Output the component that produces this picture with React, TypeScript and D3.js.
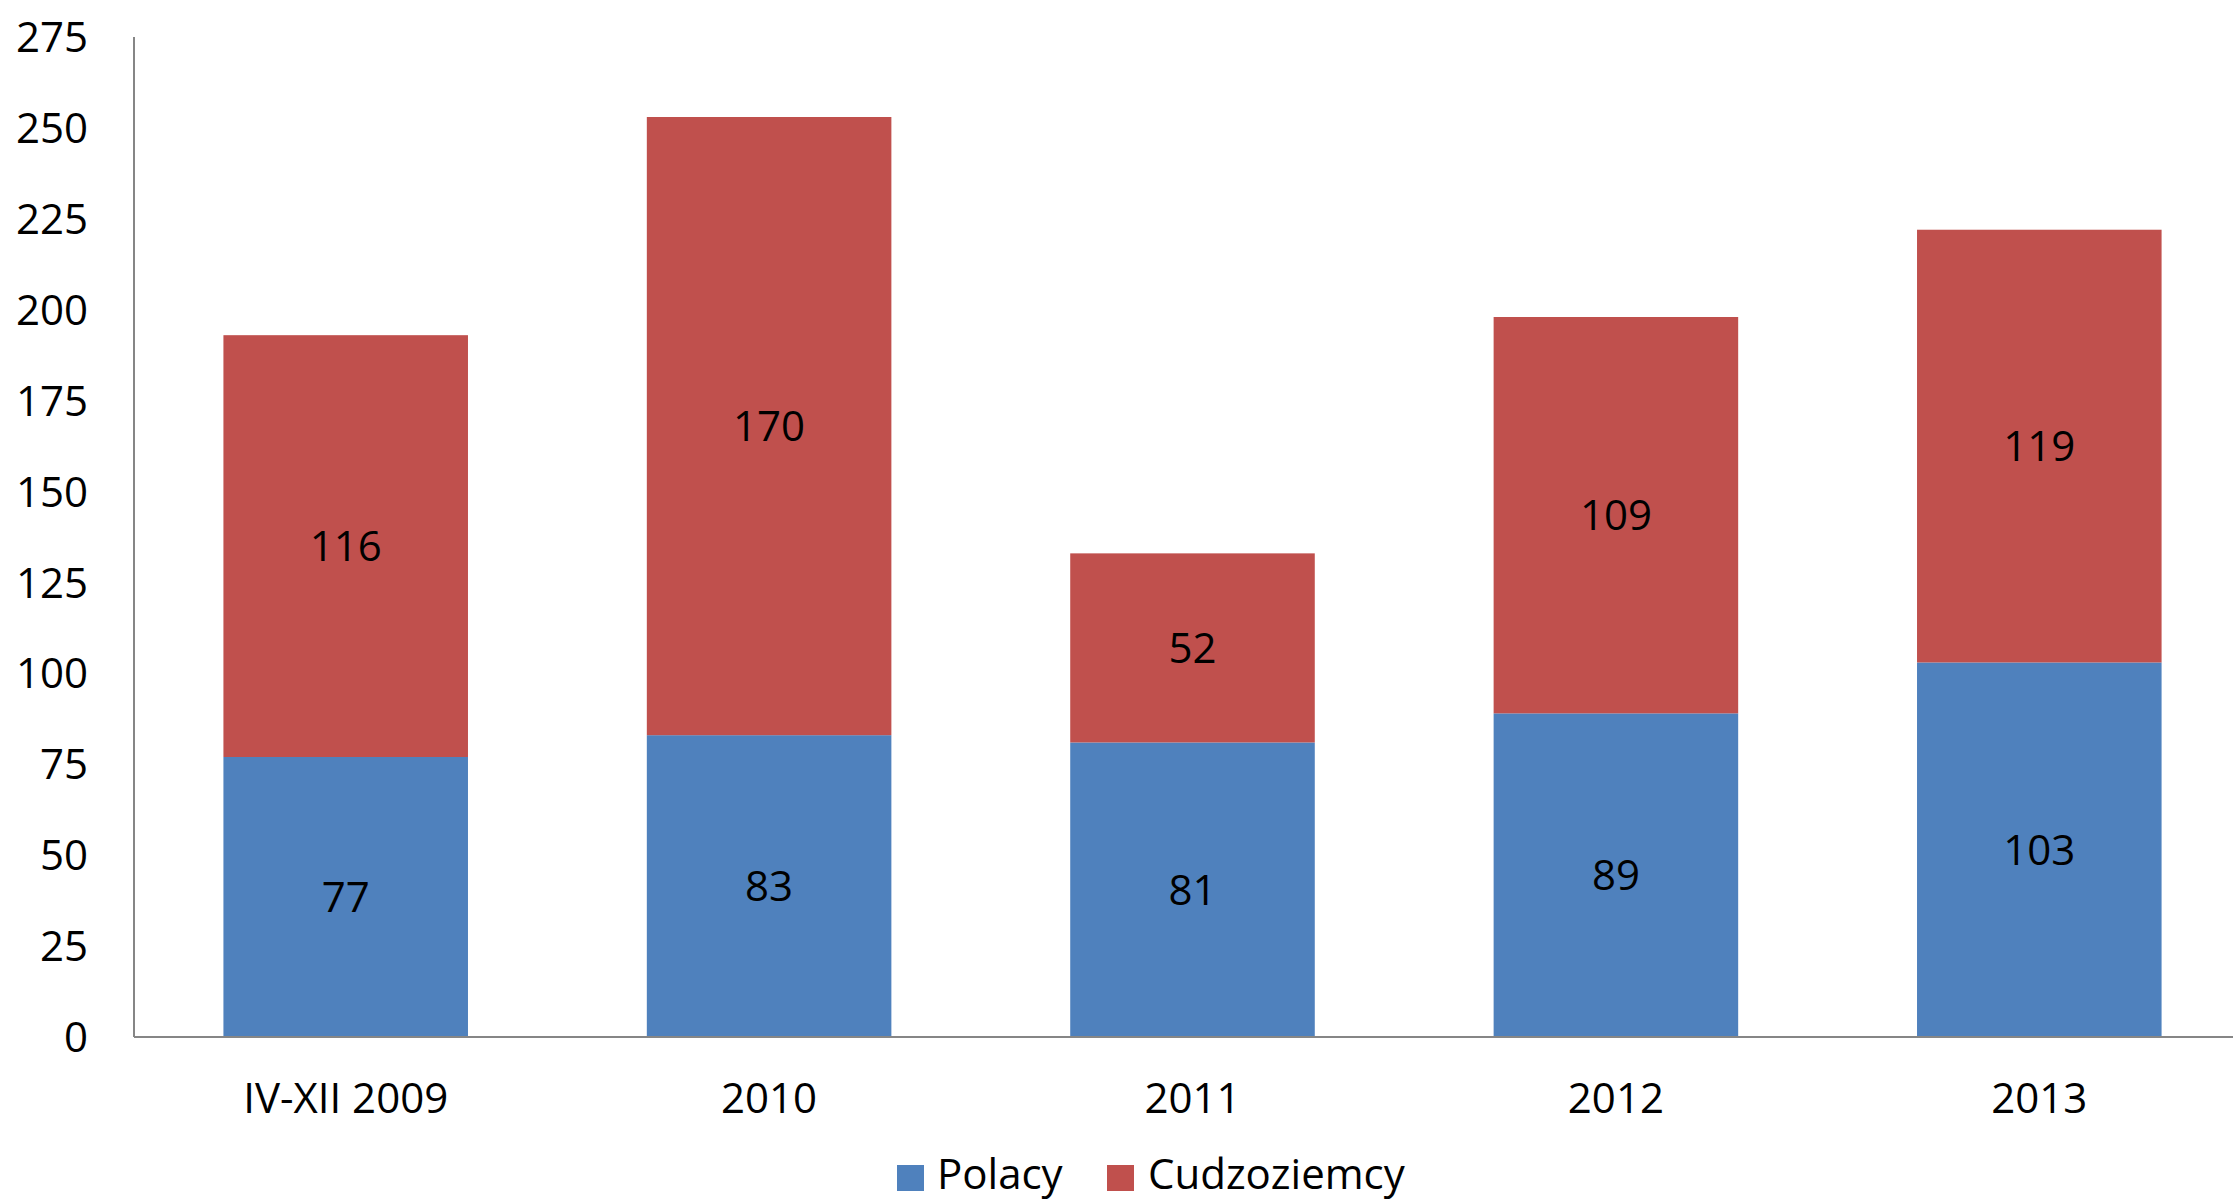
import React from "react";
import * as d3 from "d3";

const categories = ["IV-XII 2009", "2010", "2011", "2012", "2013"];
const polacy = [77, 83, 81, 89, 103];
const cudzoziemcy = [116, 170, 52, 109, 119];
const yTicks = [0, 25, 50, 75, 100, 125, 150, 175, 200, 225, 250, 275];
const seriesNames = ["Polacy", "Cudzoziemcy"];
const colors = ["#4F81BD", "#C0504D"];

const W = 2233;
const H = 1201;
const FONT = "'Open Sans', sans-serif";

export default function App() {
  const x = d3.scaleBand<string>().domain(categories).range([134, 2251]).paddingInner(0.4224).paddingOuter(0.2112);
  const y = d3.scaleLinear().domain([0, 275]).range([1037, 37]);
  const stackData = categories.map((c, i) => ({ cat: c, Polacy: polacy[i], Cudzoziemcy: cudzoziemcy[i] }));
  const stacked = d3.stack<any>().keys(seriesNames)(stackData);

  return (
    <svg width={W} height={H} style={{ display: "block", position: "absolute", left: 0, top: 0 }}>
      <rect x={0} y={0} width={W} height={H} fill="#fff" />
      {stacked.map((s, si) =>
        s.map((d, i) => (
          <rect
            key={`${si}-${i}`}
            x={x(categories[i])}
            y={y(d[1])}
            width={x.bandwidth()}
            height={y(d[0]) - y(d[1])}
            fill={colors[si]}
          />
        ))
      )}
      {stacked.map((s, si) =>
        s.map((d, i) => (
          <text
            key={`l-${si}-${i}`}
            x={(x(categories[i]) as number) + x.bandwidth() / 2}
            y={(y(d[0]) + y(d[1])) / 2}
            dy="0.36em"
            textAnchor="middle"
            fontFamily={FONT}
            fontSize={42}
            fill="#000"
          >
            {d[1] - d[0]}
          </text>
        ))
      )}
      <line x1={134} x2={134} y1={37} y2={1037} stroke="#868686" strokeWidth={2} />
      <line x1={134} x2={W} y1={1037} y2={1037} stroke="#868686" strokeWidth={2} />
      {yTicks.map((t) => (
        <text key={t} x={88} y={y(t)} dy="0.36em" textAnchor="end" fontFamily={FONT} fontSize={42} fill="#000">
          {t}
        </text>
      ))}
      {categories.map((c) => (
        <text
          key={c}
          x={(x(c) as number) + x.bandwidth() / 2}
          y={1113}
          textAnchor="middle"
          fontFamily={FONT}
          fontSize={42}
          fill="#000"
        >
          {c}
        </text>
      ))}
      <g>
        <rect x={897} y={1165} width={27} height={26} fill={colors[0]} />
        <text x={937} y={1189} fontFamily={FONT} fontSize={42} fill="#000">{seriesNames[0]}</text>
        <rect x={1107} y={1165} width={27} height={26} fill={colors[1]} />
        <text x={1148} y={1189} fontFamily={FONT} fontSize={42} fill="#000">{seriesNames[1]}</text>
      </g>
    </svg>
  );
}
